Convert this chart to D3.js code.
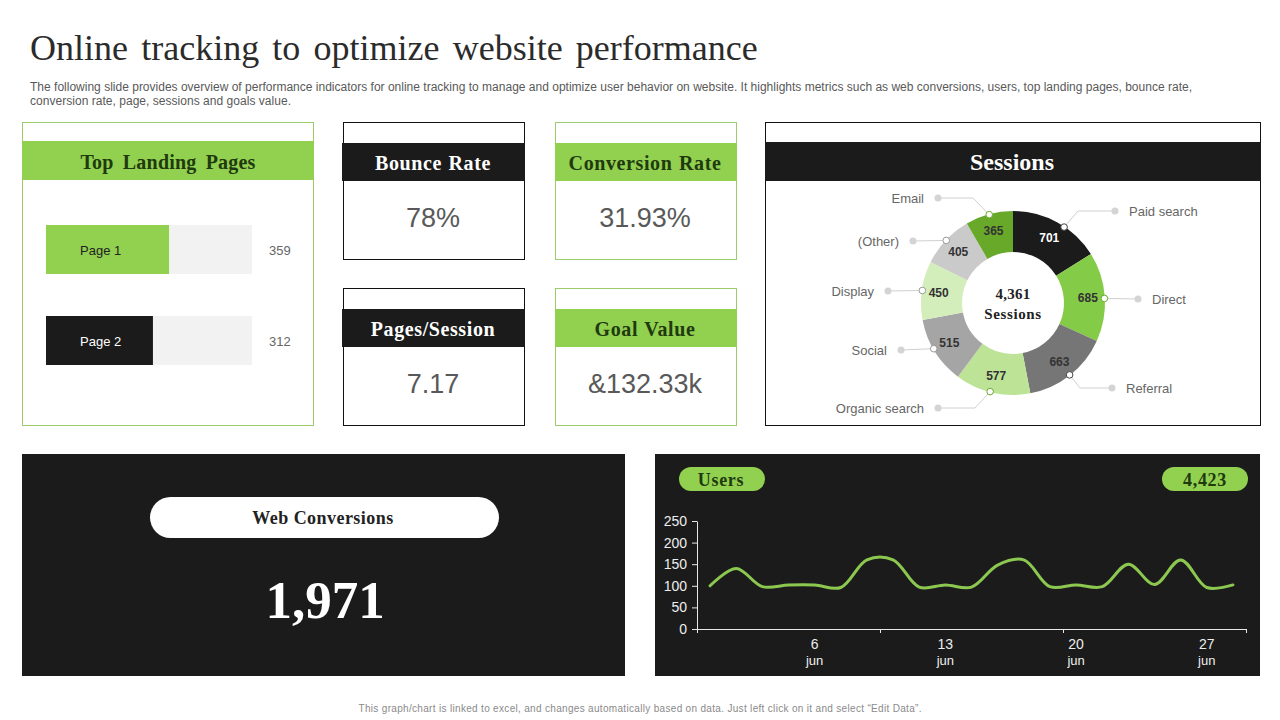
<!DOCTYPE html>
<html>
<head>
<meta charset="utf-8">
<title>Online tracking</title>
<script src="https://cdn.jsdelivr.net/npm/d3@7"></script>
<style>
	html, body { margin: 0; padding: 0; background: #fff; }
	svg { display: block; }
	text { font-family: "Liberation Sans", Arial, sans-serif; }
	.serif { font-family: "Liberation Serif", "Times New Roman", serif; }
	.users-axis path, .users-axis line { stroke: #e8e8e8; }
	.users-axis text { font-family: "Liberation Sans", Arial, sans-serif; font-size: 14px; fill: #eee; }
</style>
</head>
<body>
<svg id="chart" width="1280" height="720"></svg>
<script>
var titleText = "Online tracking to optimize website performance";
var introLines = [
	"The following slide provides overview of performance indicators for online tracking to manage and optimize user behavior on website. It highlights metrics such as web conversions, users, top landing pages, bounce rate,",
	"conversion rate, page, sessions and goals value."
];
var footerText = "This graph/chart is linked to excel, and changes automatically based on data. Just left click on it and select \u201cEdit Data\u201d.";

var pageNames = ["Page 1", "Page 2"];
var pageViews = [359, 312];
var pageViewsMax = 601;

var kpiNames = ["Bounce Rate", "Conversion Rate", "Pages/Session", "Goal Value"];
var kpiValues = ["78%", "31.93%", "7.17", "&132.33k"];

var sessionNames = ["Paid search", "Direct", "Referral", "Organic search", "Social", "Display", "(Other)", "Email"];
var sessionValues = [701, 685, 663, 577, 515, 450, 405, 365];
var sessionTotal = "4,361";

var webConversions = "1,971";
var usersTotal = "4,423";

var userDays = [2, 3, 4, 5, 6, 9, 10, 11, 12, 13, 16, 17, 18, 19, 20, 23, 24, 25, 26, 27, 30];
var userValues = [100, 140, 98, 102, 102, 96, 160, 160, 97, 102, 97, 148, 160, 98, 102, 98, 150, 103, 160, 96, 102];
var userTickDays = [6, 13, 20, 27];
var userAxisTicks = [0, 50, 100, 150, 200, 250];

var GREEN = "#92d050";
var GREEN_LINE = "#9ccb6d";
var DARK = "#1b1b1b";
var GREEN_TEXT = "#1f3a0f";
var sessionColors = ["#1b1b1b", "#84cb47", "#767676", "#bce396", "#a5a5a5", "#d3edbb", "#cacaca", "#69a92a"];

var svg = d3.select("#chart");

function addText(x, y, str, size, color, anchor, serif)
{
	var t = svg.append("text")
	.attr("x", x)
	.attr("y", y)
	.attr("font-size", size)
	.attr("fill", color)
	.attr("text-anchor", anchor || "start")
	.text(str);

	if (serif)
		t.attr("class", "serif").attr("font-weight", "bold");

	return t;
}

// title + intro
addText(30, 60, titleText, 36, "#2b2b2b", "start").attr("class", "serif")
.attr("word-spacing", 4.2);
addText(30, 90.5, introLines[0], 12, "#595959").attr("textLength", 1162).attr("lengthAdjust", "spacing");
addText(30, 104.5, introLines[1], 12, "#595959").attr("textLength", 261).attr("lengthAdjust", "spacing");
addText(640, 711.5, footerText, 10, "#8a8a8a", "middle").attr("textLength", 563).attr("lengthAdjust", "spacing");

// top landing pages
svg.append("rect").attr("x", 22.5).attr("y", 122.5).attr("width", 291).attr("height", 303)
.attr("fill", "#fff").attr("stroke", GREEN_LINE);
svg.append("rect").attr("x", 22).attr("y", 141).attr("width", 292).attr("height", 39).attr("fill", GREEN);
addText(168, 169, "Top Landing Pages", 20, GREEN_TEXT, "middle", true)
.attr("word-spacing", 4).attr("letter-spacing", 0.2);

var pageX = d3.scaleLinear().domain([0, pageViewsMax]).range([46, 252]);
var pageY = d3.scaleBand().domain(pageNames).range([225, 365]).paddingInner(42 / 91);

svg.append("g").selectAll("rect").data(pageNames).join("rect")
.attr("x", pageX(0))
.attr("y", function(d) { return pageY(d); })
.attr("width", pageX(pageViewsMax) - pageX(0))
.attr("height", pageY.bandwidth())
.attr("fill", "#f2f2f2");

svg.append("g").selectAll("rect").data(pageViews).join("rect")
.attr("x", pageX(0))
.attr("y", function(d, i) { return pageY(pageNames[i]); })
.attr("width", function(d) { return pageX(d) - pageX(0); })
.attr("height", pageY.bandwidth())
.attr("fill", function(d, i) { return i == 0 ? GREEN : DARK; });

pageNames.forEach(function(name, i)
{
	var mid = pageY(name) + pageY.bandwidth() / 2 + 5;
	addText(80, mid, name, 13, i == 0 ? "#222" : "#fff");
	addText(269, mid, pageViews[i], 13, "#666");
});

// kpi cards
var kpiLeft = [343, 555, 343, 555];
var kpiTop = [122, 122, 288, 288];

kpiNames.forEach(function(name, i)
{
	var isGreen = (i == 1 || i == 3);
	var x = kpiLeft[i], y = kpiTop[i];

	svg.append("rect").attr("x", x + 0.5).attr("y", y + 0.5).attr("width", 181).attr("height", 137)
	.attr("fill", "#fff").attr("stroke", isGreen ? GREEN_LINE : "#111");
	svg.append("rect").attr("x", isGreen ? x : x - 1).attr("y", y + 21).attr("width", isGreen ? 182 : 183).attr("height", 38)
	.attr("fill", isGreen ? GREEN : DARK);

	addText(x + 90, y + 48, name, 20, isGreen ? GREEN_TEXT : "#fff", "middle", true)
	.attr("letter-spacing", 0.6).attr("word-spacing", 1);
	addText(x + 90, y + 105, kpiValues[i], 27, "#595959", "middle");
});

// sessions donut
svg.append("rect").attr("x", 765.5).attr("y", 122.5).attr("width", 495).attr("height", 303)
.attr("fill", "#fff").attr("stroke", "#111");
svg.append("rect").attr("x", 765).attr("y", 142).attr("width", 496).attr("height", 39).attr("fill", DARK);
addText(1012, 170, "Sessions", 24, "#fff", "middle", true);

var donutX = 1013, donutY = 303;
var pie = d3.pie().sort(null)(sessionValues);
var arc = d3.arc().innerRadius(51).outerRadius(92);
var labelArc = d3.arc().innerRadius(75).outerRadius(75);

var donut = svg.append("g").attr("transform", "translate(" + donutX + "," + donutY + ")");

donut.selectAll("path").data(pie).join("path")
.attr("d", arc)
.attr("fill", function(d, i) { return sessionColors[i]; });

donut.selectAll("text").data(pie).join("text")
.attr("transform", function(d) { return "translate(" + labelArc.centroid(d) + ")"; })
.attr("dy", "0.35em")
.attr("text-anchor", "middle")
.attr("font-size", 12)
.attr("font-weight", "bold")
.attr("fill", function(d, i) { return i == 0 ? "#fff" : "#333"; })
.text(function(d) { return d.value; });

addText(donutX, 299, sessionTotal, 15, "#222", "middle", true).attr("letter-spacing", 0.3);
addText(donutX, 319, "Sessions", 15, "#222", "middle", true).attr("letter-spacing", 0.6);

// leader lines, layout only: elbow and end dot relative to donut centre
var leaderTurn = [[65, -92], null, [67, 85], [-38, 105], null, null, null, [-40, -105]];
var leaderEnd = [[102, -92], [125, -4], [99, 85], [-75, 105], [-112, 47], [-125, -12], [-100, -62], [-75, -105]];
var leaderShift = [5, 1, 0, 1.5, 2, 0, 0, 0];

pie.forEach(function(d, i)
{
	var a = (d.startAngle + d.endAngle) / 2 + leaderShift[i] * Math.PI / 180;
	var start = [91.5 * Math.sin(a), -91.5 * Math.cos(a)];
	var pts = [start];
	if (leaderTurn[i]) pts.push(leaderTurn[i]);
	pts.push(leaderEnd[i]);

	donut.append("path")
	.attr("d", d3.line()(pts))
	.attr("fill", "none")
	.attr("stroke", "#d0d0d0");

	donut.append("circle").attr("cx", leaderEnd[i][0]).attr("cy", leaderEnd[i][1]).attr("r", 3.5).attr("fill", "#d4d4d4");
	donut.append("circle").attr("cx", start[0]).attr("cy", start[1]).attr("r", 3.3)
	.attr("fill", "#fff").attr("stroke", i == 0 || i == 2 ? "#444" : (i == 1 || i == 3 || i == 7 ? "#69a92a" : "#999"));

	var right = leaderEnd[i][0] > 0;
	addText(donutX + leaderEnd[i][0] + (right ? 14 : -14), donutY + leaderEnd[i][1] + 4.5, sessionNames[i], 13, "#666", right ? "start" : "end");
});

// web conversions
svg.append("rect").attr("x", 22).attr("y", 454).attr("width", 603).attr("height", 222).attr("fill", DARK);
svg.append("rect").attr("x", 150).attr("y", 497).attr("width", 349).attr("height", 41).attr("rx", 20.5).attr("fill", "#fff");
addText(323, 524, "Web Conversions", 18, "#222", "middle", true).attr("letter-spacing", 0.45);
addText(325, 618, webConversions, 53, "#fff", "middle", true);

// users
svg.append("rect").attr("x", 655).attr("y", 454).attr("width", 605).attr("height", 222).attr("fill", DARK);
svg.append("rect").attr("x", 679).attr("y", 467).attr("width", 86).attr("height", 24).attr("rx", 12).attr("fill", GREEN);
svg.append("rect").attr("x", 1162).attr("y", 467).attr("width", 86).attr("height", 24).attr("rx", 12).attr("fill", GREEN);
addText(721, 485.5, "Users", 18, GREEN_TEXT, "middle", true).attr("letter-spacing", 0.7);
addText(1205, 485.5, usersTotal, 18, GREEN_TEXT, "middle", true).attr("letter-spacing", 0.7);

var x = d3.scaleBand().domain(userDays).range([697, 1246]);
var xEdges = d3.scaleLinear().domain([0, userDays.length]).range([697, 1246]);
var y = d3.scaleLinear().domain([0, 250]).range([629, 521]);

svg.append("g").attr("class", "users-axis").attr("transform", "translate(697,0)")
.call(d3.axisLeft(y).tickValues(userAxisTicks).tickSize(5).tickPadding(5).tickSizeOuter(0));

svg.append("g").attr("class", "users-axis").attr("transform", "translate(0,629)")
.call(d3.axisBottom(xEdges).tickValues([0, 7, 14, 21]).tickSize(4).tickSizeOuter(0).tickFormat(""));

var dayAxis = svg.append("g").attr("class", "users-axis").attr("transform", "translate(0,629)")
.call(d3.axisBottom(x).tickValues(userTickDays).tickSize(0).tickPadding(10));
dayAxis.select(".domain").remove();
dayAxis.selectAll(".tick").append("text")
.attr("y", 36)
.attr("text-anchor", "middle")
.style("font-size", "13px")
.text("jun");

svg.append("path")
.attr("d", d3.line()
	.x(function(d, i) { return x(userDays[i]) + x.bandwidth() / 2; })
	.y(function(d) { return y(d); })
	.curve(d3.curveCatmullRom.alpha(0.5))(userValues))
.attr("fill", "none")
.attr("stroke", "#8cc850")
.attr("stroke-width", 3)
.attr("stroke-linecap", "round");
</script>
</body>
</html>
